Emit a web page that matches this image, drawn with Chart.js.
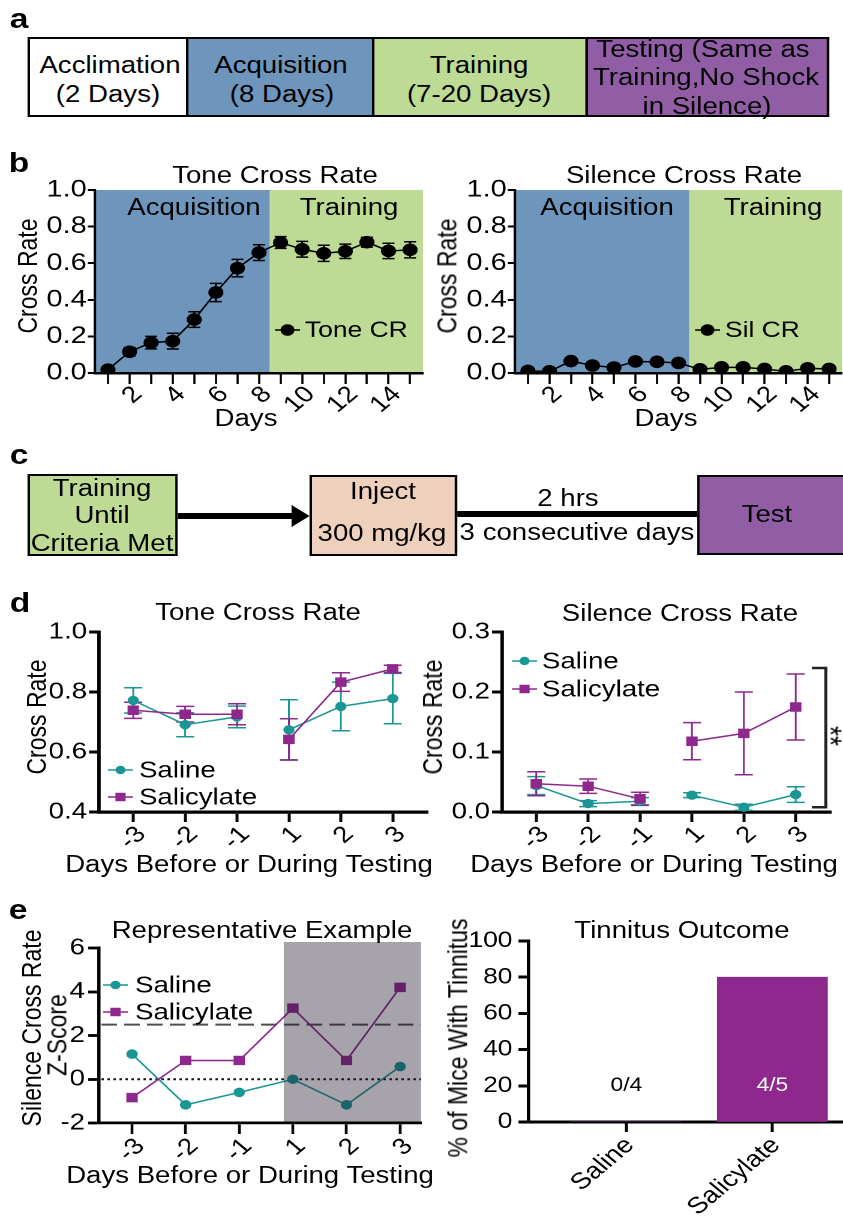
<!DOCTYPE html>
<html><head><meta charset="utf-8">
<script src="https://cdn.jsdelivr.net/npm/chart.js@4.4.1/dist/chart.umd.min.js"></script>
<style>
html,body{margin:0;padding:0;background:#fff;width:843px;height:1222px;overflow:hidden;}
#page{position:absolute;left:0;top:0;width:703px;height:1222px;transform:scaleX(1.2);transform-origin:0 0;font-family:"Liberation Sans",Arial,Helvetica,sans-serif;color:#000;}
.t{position:absolute;white-space:nowrap;line-height:1;transform:translate(-50%,-50%);}
.box{position:absolute;box-sizing:border-box;border-style:solid;border-color:#000;}
canvas{position:absolute;}
</style></head><body><div id="page"></div>
<script>
// ---------------- DATA ----------------
const bDays = [1,2,3,4,5,6,7,8,9,10,11,12,13,14,15];
const toneCR  = [0.018,0.116,0.166,0.174,0.292,0.440,0.573,0.658,0.713,0.676,0.654,0.665,0.715,0.667,0.673];
const toneSEM = [0.006,0.023,0.034,0.043,0.043,0.050,0.048,0.043,0.032,0.043,0.044,0.039,0.027,0.042,0.044];
const silCR   = [0.011,0.009,0.065,0.041,0.030,0.063,0.061,0.055,0.020,0.031,0.031,0.022,0.009,0.026,0.022];
const silSEM  = [0.004,0.004,0.010,0.008,0.006,0.009,0.008,0.008,0.005,0.006,0.006,0.005,0.004,0.005,0.005];
const bYTicks = [0,0.2,0.4,0.6,0.8,1.0];
const acquisitionLastDay = 8;

const dDays = ['-3','-2','-1','1','2','3'];
const dToneSaline        = [0.772,0.691,0.717,0.674,0.752,0.778];
const dToneSalineSEM     = [0.042,0.040,0.036,0.100,0.081,0.084];
const dToneSalicylate    = [0.739,0.726,0.726,0.642,0.833,0.877];
const dToneSalicylateSEM = [0.027,0.026,0.035,0.069,0.031,0.012];
const dSilSaline         = [0.044,0.014,0.018,0.028,0.008,0.029];
const dSilSalineSEM      = [0.015,0.005,0.006,0.004,0.005,0.013];
const dSilSalicylate     = [0.047,0.043,0.022,0.118,0.131,0.175];
const dSilSalicylateSEM  = [0.020,0.012,0.011,0.031,0.069,0.055];
const dToneYTicks = [0.4,0.6,0.8,1.0];
const dSilYTicks = [0,0.1,0.2,0.3];

const eSaline     = [1.15,-1.17,-0.60,0.00,-1.17,0.58];
const eSalicylate = [-0.84,0.86,0.86,3.25,0.86,4.20];
const eYTicks = [-2,0,2,4,6];
const eThreshold = 2.5;
const eTestingStart = 2.83;

const outcomeGroups = ['Saline','Salicylate'];
const outcomePct = [0,80];
const outcomeCounts = ['0/4','4/5'];
const outcomeYTicks = [0,20,40,60,80,100];

// ---------------- STYLE / HELPERS ----------------
const S = 1.2;
const BLUE='#6e95bb', GREEN='#bddb94', PURPLE_BOX='#915ea6', PEACH='#eed1bd', TEAL='#1a9794', PURPLE='#8e288d';
const FONT='"Liberation Sans", Arial, Helvetica, sans-serif';
const page = document.getElementById('page');
Chart.defaults.font.family = FONT;
Chart.defaults.color = '#000';

function txt(x, y, s, size, opt) {
  opt = opt || {};
  const d = document.createElement('div');
  d.className = 't'; d.textContent = s;
  d.style.left = (x / S) + 'px'; d.style.top = y + 'px'; d.style.fontSize = size + 'px';
  if (opt.bold) d.style.fontWeight = 'bold';
  if (opt.rot) d.style.transform = 'translate(-50%,-50%) rotate(' + opt.rot + 'deg)';
  page.appendChild(d);
}
function rect(x1, y1, x2, y2, bg, bw) {
  const d = document.createElement('div');
  d.className = 'box';
  d.style.left = (x1 / S) + 'px'; d.style.top = y1 + 'px';
  d.style.width = ((x2 - x1) / S) + 'px'; d.style.height = (y2 - y1) + 'px';
  d.style.background = bg; d.style.borderWidth = bw + 'px';
  page.appendChild(d);
  return d;
}

function drawMarker(ctx, style, r, x, y) {
  ctx.beginPath();
  if (style === 'rect') { const h = r * Math.SQRT1_2; ctx.rect(x - h, y - h, 2 * h, 2 * h); }
  else ctx.arc(x, y, r, 0, Math.PI * 2);
  ctx.fill();
}

const bands = { id: 'bands', beforeDraw(chart, args, o) {
  if (!o || !o.items) return;
  const { ctx, chartArea: a, scales: { x } } = chart;
  o.items.forEach(b => {
    const x1 = b.from == null ? a.left : x.getPixelForValue(b.from);
    const x2 = b.to == null ? a.right : x.getPixelForValue(b.to);
    ctx.save(); ctx.fillStyle = b.color; ctx.fillRect(x1, a.top, x2 - x1, a.bottom - a.top); ctx.restore();
  });
}};
const hLines = { id: 'hLines', beforeDatasetsDraw(chart, args, o) {
  if (!o || !o.items) return;
  const { ctx, chartArea: a, scales: { y } } = chart;
  o.items.forEach(l => {
    const py = y.getPixelForValue(l.y);
    ctx.save(); ctx.strokeStyle = l.color; ctx.lineWidth = l.width; ctx.setLineDash(l.dash);
    ctx.beginPath(); ctx.moveTo(a.left + 2, py); ctx.lineTo(a.right, py); ctx.stroke(); ctx.restore();
  });
}};
const errorBars = { id: 'errorBars', beforeDatasetsDraw(chart, args, o) {
  if (!o || !o.cap) return;
  const ctx = chart.ctx, xs = chart.scales.x, ys = chart.scales.y;
  chart.data.datasets.forEach(ds => {
    if (!ds.errors) return;
    ctx.save(); ctx.strokeStyle = ds.borderColor; ctx.lineWidth = o.width;
    ds.data.forEach((p, i) => {
      const e = ds.errors[i]; const x = xs.getPixelForValue(p.x);
      const yt = ys.getPixelForValue(p.y + e), yb = ys.getPixelForValue(p.y - e);
      ctx.beginPath();
      ctx.moveTo(x, yt); ctx.lineTo(x, yb);
      ctx.moveTo(x - o.cap, yt); ctx.lineTo(x + o.cap, yt);
      ctx.moveTo(x - o.cap, yb); ctx.lineTo(x + o.cap, yb);
      ctx.stroke();
    });
    ctx.restore();
  });
}};
const overlayBand = { id: 'overlayBand', afterDatasetsDraw(chart, args, o) {
  if (!o || o.from == null) return;
  const { ctx, chartArea: a, scales: { x } } = chart;
  const x1 = x.getPixelForValue(o.from);
  ctx.save(); ctx.fillStyle = o.color;
  ctx.fillRect(x1, a.top - o.extendTop, a.right - x1, a.bottom - o.inset - a.top + o.extendTop);
  ctx.restore();
}};
const bracket = { id: 'bracket', afterDatasetsDraw(chart, args, o) {
  if (!o || o.x == null) return;
  const { ctx, scales: { x, y } } = chart;
  const px = x.getPixelForValue(o.x), pt = x.getPixelForValue(o.xTick);
  const y1 = y.getPixelForValue(o.yTop), y2 = y.getPixelForValue(o.yBottom);
  ctx.save(); ctx.strokeStyle = '#222'; ctx.lineWidth = o.width;
  ctx.beginPath(); ctx.moveTo(pt, y1); ctx.lineTo(px, y1); ctx.lineTo(px, y2); ctx.lineTo(pt, y2); ctx.stroke();
  ctx.restore();
}};
const barLabels = { id: 'barLabels', afterDatasetsDraw(chart, args, o) {
  if (!o || !o.labels) return;
  const { ctx, scales: { x, y } } = chart;
  ctx.save(); ctx.font = o.font; ctx.textAlign = 'center'; ctx.textBaseline = 'middle';
  o.labels.forEach((l, i) => { ctx.fillStyle = o.colors[i]; ctx.fillText(l, x.getPixelForValue(i), y.getPixelForValue(o.atValue)); });
  ctx.restore();
}};
const lineLegend = { id: 'lineLegend', afterDraw(chart, args, o) {
  if (!o || !o.items) return;
  const ctx = chart.ctx;
  o.items.forEach(it => {
    const ds = chart.data.datasets[it.ds];
    const x1 = it.x1 / S - o.cl, x2 = it.x2 / S - o.cl, y = it.y - o.ct;
    ctx.save();
    ctx.strokeStyle = ds.borderColor; ctx.lineWidth = ds.borderWidth;
    ctx.beginPath(); ctx.moveTo(x1, y); ctx.lineTo(x2, y); ctx.stroke();
    ctx.fillStyle = ds.pointBackgroundColor;
    drawMarker(ctx, ds.pointStyle, ds.pointRadius, (x1 + x2) / 2, y);
    ctx.fillStyle = '#000'; ctx.font = o.font; ctx.textAlign = 'left'; ctx.textBaseline = 'middle';
    ctx.fillText(ds.label, it.tx / S - o.cl, y + 1);
    ctx.restore();
  });
}};
Chart.register(bands, hLines, errorBars, overlayBand, bracket, barLabels, lineLegend);

function xLin(min, max, vals, cb, s) {
  return { type: 'linear', bounds: 'data', min, max, offset: false,
    afterBuildTicks: a => { a.ticks = vals.map(v => ({ value: v })); },
    ticks: { autoSkip: false, minRotation: 45, maxRotation: 45, padding: s.pad, labelOffset: s.lo || 0, color: '#000', font: { size: s.font }, callback: cb },
    grid: { display: true, drawOnChartArea: false, drawTicks: true, tickLength: s.tl, tickWidth: s.tw, tickColor: '#000', offset: false },
    border: { display: true, color: '#000', width: s.bw } };
}
function yLin(min, max, vals, cb, s) {
  return { type: 'linear', bounds: 'data', min, max,
    afterBuildTicks: a => { a.ticks = vals.map(v => ({ value: v })); },
    ticks: { padding: s.pad, color: '#000', font: { size: s.font }, callback: cb },
    grid: { display: true, drawOnChartArea: false, drawTicks: true, tickLength: s.tl, tickWidth: s.tw, tickColor: '#000' },
    border: { display: true, color: '#000', width: s.bw } };
}
function makeChart(box, area, cfg) {
  const c = document.createElement('canvas');
  const cl = box[0] / S, ct = box[1];
  const cw = Math.round((box[2] - box[0]) / S), ch = box[3] - box[1];
  c.width = cw; c.height = ch;
  c.style.left = cl + 'px'; c.style.top = ct + 'px';
  page.appendChild(c);
  const o = cfg.options;
  o.responsive = false; o.devicePixelRatio = 2; o.animation = false; o.events = [];
  o.layout = { padding: { left: 0, top: area[1] - ct, right: cl + cw - area[2] / S, bottom: 0 } };
  const xH = ct + ch - area[3], yW = area[0] / S - cl;
  o.scales.x.afterFit = s => { s.height = xH; };
  o.scales.y.afterFit = s => { s.width = yW; };
  o.plugins = Object.assign({ legend: { display: false }, tooltip: { enabled: false }, title: { display: false } }, o.plugins || {});
  if (o.plugins.lineLegend) { o.plugins.lineLegend.cl = cl; o.plugins.lineLegend.ct = ct; }
  return new Chart(c, cfg);
}
function series(label, xs, ys, errs, color, style, r, order) {
  return { label, data: xs.map((x, i) => ({ x, y: ys[i] })), errors: errs, borderColor: color, backgroundColor: color,
    pointBackgroundColor: color, pointBorderColor: color, pointBorderWidth: 1, borderWidth: 1.5,
    pointStyle: style, pointRadius: r, pointHoverRadius: r, tension: 0, order: order || 0 };
}
const idx = dDays.map((d, i) => i);
const gapSeg = { borderColor: c => (Number(dDays[c.p0DataIndex]) < 0 && Number(dDays[c.p1DataIndex]) > 0) ? 'rgba(0,0,0,0)' : undefined };

// ---------------- PANEL b ----------------
function bChart(box, area, label, vals, sem, leg) {
  return makeChart(box, area, { type: 'line',
    data: { datasets: [series(label, bDays, vals, sem, '#000', 'circle', 5.8)] },
    options: {
      scales: {
        x: xLin(0.4, 15.6, bDays, v => (v % 2 === 0 ? String(v) : ''), { pad: -3, lo: 7, font: 23, tl: 11, tw: 1.8, bw: 2.5 }),
        y: yLin(0, 1, bYTicks, v => v.toFixed(1), { pad: 1, font: 24, tl: 6, tw: 2, bw: 2.1 })
      },
      plugins: {
        bands: { items: [{ to: acquisitionLastDay + 0.5, color: BLUE }, { from: acquisitionLastDay + 0.5, color: GREEN }] },
        errorBars: { cap: 5, width: 1.5 },
        lineLegend: { items: [leg], font: '22px ' + FONT }
      }
    } });
}
bChart([0,150,450,445], [95,190,423,373], 'Tone CR', toneCR, toneSEM, { ds: 0, x1: 275, x2: 300, y: 330, tx: 305 });
bChart([420,150,870,445], [515,190,842,373], 'Sil CR', silCR, silSEM, { ds: 0, x1: 695, x2: 720, y: 330, tx: 725 });

// ---------------- PANEL d ----------------
function dChart(box, area, ymin, ymax, yt, sal, salE, sli, sliE, legs, extra) {
  const s1 = series('Saline', idx, sal, salE, TEAL, 'circle', 4.2, 2); s1.segment = gapSeg;
  const s2 = series('Salicylate', idx, sli, sliE, PURPLE, 'rect', 6, 1); s2.segment = gapSeg;
  const plugins = { errorBars: { cap: 7.5, width: 1.5 }, lineLegend: { items: legs, font: '23px ' + FONT } };
  Object.assign(plugins, extra || {});
  return makeChart(box, area, { type: 'line',
    data: { datasets: [s1, s2] },
    options: {
      scales: {
        x: xLin(-0.66, 5.68, idx, v => dDays[v], { pad: -1, lo: 7, font: 23, tl: 10, tw: 2.5, bw: 3.3 }),
        y: yLin(ymin, ymax, yt, v => v.toFixed(1), { pad: 1.7, font: 23, tl: 8.3, tw: 3, bw: 2.9 })
      },
      plugins
    } });
}
dChart([0,610,450,880], [99,632,428,812], 0.4, 1.0, dToneYTicks,
  dToneSaline, dToneSalineSEM, dToneSalicylate, dToneSalicylateSEM,
  [{ ds: 0, x1: 108, x2: 133, y: 770, tx: 139 }, { ds: 1, x1: 108, x2: 133, y: 797, tx: 139 }]);
dChart([420,610,870,880], [502,632,831,812], 0, 0.3, dSilYTicks,
  dSilSaline, dSilSalineSEM, dSilSalicylate, dSilSalicylateSEM,
  [{ ds: 0, x1: 512, x2: 537, y: 661, tx: 542 }, { ds: 1, x1: 512, x2: 537, y: 689, tx: 542 }],
  { bracket: { x: 5.58, xTick: 5.31, yTop: 0.24, yBottom: 0.008, width: 2.5 } });

// ---------------- PANEL e ----------------
(function () {
  const s1 = series('Saline', idx, eSaline, null, TEAL, 'circle', 4.3, 2);
  const s2 = series('Salicylate', idx, eSalicylate, null, PURPLE, 'rect', 6, 1);
  makeChart([0,925,450,1222], [99,948,421,1123], { type: 'line',
    data: { datasets: [s1, s2] },
    options: {
      scales: {
        x: xLin(-0.616, 5.39, idx, v => dDays[v], { pad: -1, lo: 7, font: 23, tl: 11, tw: 2.3, bw: 2.8 }),
        y: yLin(-2, 6, eYTicks, v => String(v), { pad: 2.7, font: 23, tl: 9, tw: 2.8, bw: 2.75 })
      },
      plugins: {
        hLines: { items: [{ y: eThreshold, color: '#4d4d4d', width: 2, dash: [13, 6] }, { y: 0, color: '#111', width: 2, dash: [2, 3] }] },
        overlayBand: { from: eTestingStart, color: 'rgba(33,25,43,0.4)', extendTop: 6, inset: 1.5 },
        lineLegend: { items: [{ ds: 0, x1: 103, x2: 128, y: 985, tx: 135 }, { ds: 1, x1: 103, x2: 128, y: 1012, tx: 135 }], font: '23px ' + FONT }
      }
    } });
  makeChart([440,920,900,1222], [528,941,845,1122], { type: 'bar',
    data: { datasets: [{ label: '% of Mice With Tinnitus', data: outcomeGroups.map((g, i) => ({ x: i, y: outcomePct[i] })),
      backgroundColor: '#8e288c', borderWidth: 0, barThickness: 110 / S }] },
    options: {
      scales: {
        x: xLin(-0.671, 1.5, outcomeGroups.map((g, i) => i), v => outcomeGroups[v], { pad: 0, lo: 3, font: 23, tl: 10, tw: 2.5, bw: 3 }),
        y: yLin(0, 100, outcomeYTicks, v => String(v), { pad: 5, font: 22, tl: 8.3, tw: 3, bw: 2.8 })
      },
      plugins: { barLabels: { labels: outcomeCounts, colors: ['#000', '#fff'], atValue: 20, font: '19px ' + FONT } }
    } });
})();

// ---------------- DIAGRAMS (a, c) ----------------
rect(28,37,188,117,'#fff',2.5);
rect(186,37,374,117,BLUE,2.5);
rect(372,37,588,117,GREEN,2.5);
rect(586,37,829,117,PURPLE_BOX,2.5);
txt(110,65,'Acclimation',23); txt(108,94,'(2 Days)',23);
txt(281,65,'Acquisition',23); txt(282,94,'(8 Days)',23);
txt(479,65,'Training',23); txt(479,94,'(7-20 Days)',23);
txt(703,49,'Testing (Same as',23); txt(706,77,'Training,No Shock',23); txt(707,106,'in Silence)',23);

rect(28,474,178,556,GREEN,2);
(function () {
  const sh = document.createElement('div');
  sh.style.cssText = 'position:absolute;background:#000;left:' + (177 / S) + 'px;top:513px;width:' + ((294 - 177) / S) + 'px;height:6px;';
  page.appendChild(sh);
  const hd = document.createElement('div');
  hd.style.cssText = 'position:absolute;width:0;height:0;left:' + (292 / S) + 'px;top:505px;border-left:' + (18 / S) + 'px solid #000;border-top:11px solid transparent;border-bottom:11px solid transparent;';
  page.appendChild(hd);
  const ln = document.createElement('div');
  ln.style.cssText = 'position:absolute;background:#000;left:' + (456 / S) + 'px;top:511px;width:' + ((697 - 456) / S) + 'px;height:6px;';
  page.appendChild(ln);
})();
rect(310,475,457,556,PEACH,2);
rect(697,475,850,555,PURPLE_BOX,2);
txt(102,488,'Training',23); txt(102,515,'Until',23); txt(102,543,'Criteria Met',23);
txt(383,491,'Inject',23); txt(382,533,'300 mg/kg',23);
txt(568,498,'2 hrs',23); txt(577,532,'3 consecutive days',23);
txt(767,514,'Test',23);

// ---------------- TEXT ----------------
txt(19,19,'a',28,{bold:1}); txt(19,163,'b',28,{bold:1}); txt(19,455,'c',28,{bold:1});
txt(20,603,'d',28,{bold:1}); txt(18,910,'e',28,{bold:1});

txt(275,175,'Tone Cross Rate',23); txt(684,175,'Silence Cross Rate',23);
txt(28,276,'Cross Rate',23,{rot:-90}); txt(448,276,'Cross Rate',23,{rot:-90});
txt(246,418,'Days',23); txt(666,418,'Days',23);
txt(194,207,'Acquisition',23); txt(349,207,'Training',23);
txt(607,207,'Acquisition',23); txt(773,207,'Training',23);

txt(258,612,'Tone Cross Rate',23); txt(680,613,'Silence Cross Rate',23);
txt(37,717,'Cross Rate',23,{rot:-90}); txt(433,717,'Cross Rate',23,{rot:-90});
txt(249,864,'Days Before or During Testing',23); txt(654,864,'Days Before or During Testing',23);
txt(830,736,'**',26,{rot:90});

txt(262,930,'Representative Example',23); txt(682,930,'Tinnitus Outcome',23);
txt(32,1028,'Silence Cross Rate',23,{rot:-90}); txt(57,1035,'Z-Score',23,{rot:-90});
txt(250,1175,'Days Before or During Testing',23);
txt(458,1038,'% of Mice With Tinnitus',23,{rot:-90});
</script></body></html>
